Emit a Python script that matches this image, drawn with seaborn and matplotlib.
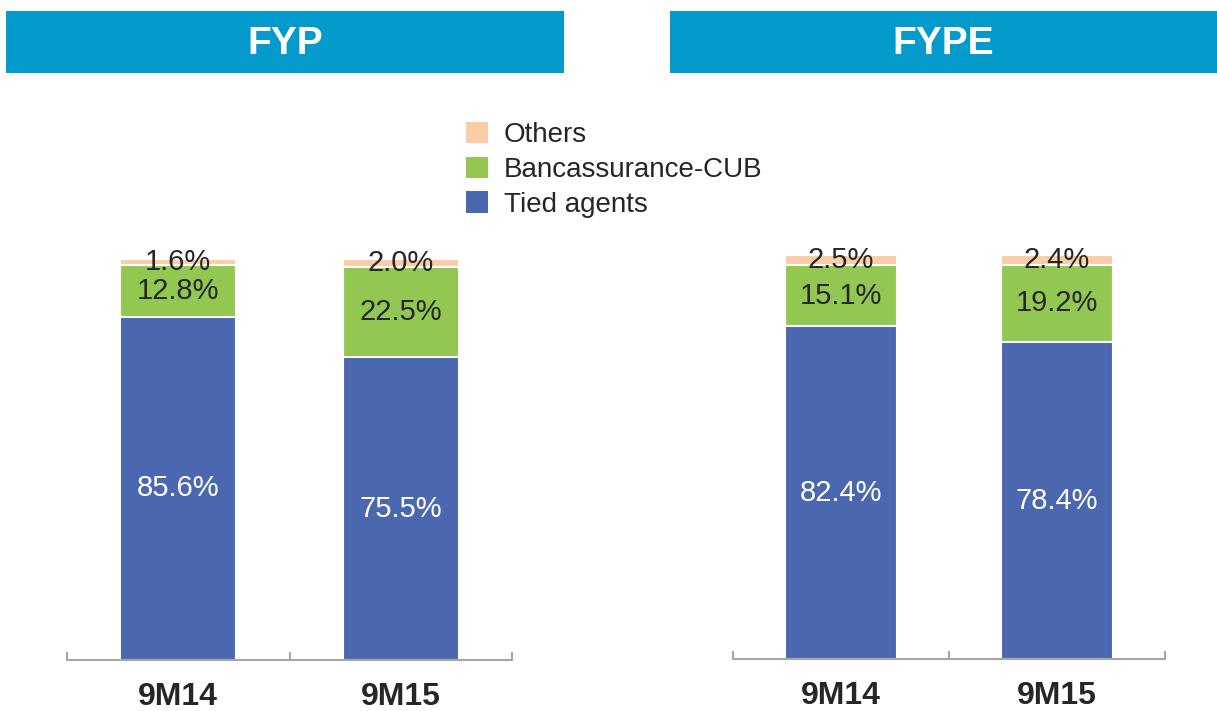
import matplotlib
matplotlib.use("Agg")
import matplotlib.pyplot as plt
from matplotlib.patches import Rectangle, Patch
import seaborn as sns
import pandas as pd

sns.set_theme(style="white")
plt.rcParams["font.family"] = ["Liberation Sans", "DejaVu Sans"]

# Channel mix (% of total) for each metric
periods = ["9M14", "9M15"]
fyp_tied = [85.6, 75.5]
fyp_banca = [12.8, 22.5]
fyp_others = [1.6, 2.0]
fype_tied = [82.4, 78.4]
fype_banca = [15.1, 19.2]
fype_others = [2.5, 2.4]

channels = ["Others", "Bancassurance-CUB", "Tied agents"]
colors = {"Tied agents": "#4A67B0", "Bancassurance-CUB": "#92C852", "Others": "#FBCDA6"}
header_color = "#049BCC"
text_dark = "#262626"
axis_gray = "#A6A6A6"

W, H = 1217, 711
fig = plt.figure(figsize=(W / 100, H / 100), dpi=100)


def frac_box(x0, y_bottom, w, h):
    return [x0 / W, (H - y_bottom) / H, w / W, h / H]


def draw_panel(ax, tied, banca, others):
    df = pd.DataFrame({"period": periods, "tied": tied, "banca": banca, "others": others})
    df["banca_top"] = df["tied"] + df["banca"]
    df["total"] = df["banca_top"] + df["others"]
    # Stack drawn back-to-front as cumulative heights
    for col, name in [("total", "Others"), ("banca_top", "Bancassurance-CUB"), ("tied", "Tied agents")]:
        sns.barplot(data=df, x="period", y=col, color=colors[name], width=0.52,
                    edgecolor="white", linewidth=1.5, saturation=1, ax=ax, errorbar=None)
    for i, row in df.iterrows():
        ax.text(i, row["tied"] / 2, f"{row['tied']:.1f}%", ha="center", va="center",
                color="white", fontsize=21)
        ax.text(i, row["tied"] + row["banca"] / 2, f"{row['banca']:.1f}%", ha="center",
                va="center", color=text_dark, fontsize=21)
        ax.text(i, row["banca_top"] + row["others"] / 2, f"{row['others']:.1f}%",
                ha="center", va="center", color=text_dark, fontsize=21)
    ax.set_xlim(-0.5, 1.5)
    ax.set_ylim(0, 100)
    ax.set_xlabel("")
    ax.set_ylabel("")
    ax.set_yticks([])
    for s in ["top", "right", "left"]:
        ax.spines[s].set_visible(False)
    ax.spines["bottom"].set_color(axis_gray)
    ax.spines["bottom"].set_linewidth(1.5)
    ax.set_xticks([0, 1])
    ax.set_xticklabels(periods, fontsize=23, fontweight="bold", color=text_dark)
    ax.tick_params(axis="x", which="major", bottom=True, length=0, pad=16)
    ax.set_xticks([-0.5, 0.5, 1.5], minor=True)
    ax.tick_params(axis="x", which="minor", bottom=True, direction="in", length=6,
                   width=1.5, color=axis_gray)


ax1 = fig.add_axes(frac_box(67, 660, 445, 401))
ax2 = fig.add_axes(frac_box(733, 659, 432, 404))
for ax in (ax1, ax2):
    ax.patch.set_alpha(0)
draw_panel(ax1, fyp_tied, fyp_banca, fyp_others)
draw_panel(ax2, fype_tied, fype_banca, fype_others)

# Section headers
for x0, w, title in [(6, 558, "FYP"), (670, 547, "FYPE")]:
    fig.patches.append(Rectangle((x0 / W, (H - 73) / H), w / W, 62 / H,
                                 transform=fig.transFigure, facecolor=header_color,
                                 edgecolor="none", zorder=0))
    fig.text((x0 + w / 2) / W, 1 - 44 / H, title, ha="center", va="center",
             color="white", fontsize=28, fontweight="bold")

handles = [Patch(facecolor=colors[c], edgecolor="none", label=c) for c in channels]
fig.legend(handles=handles, loc="upper left", bbox_to_anchor=(455 / W, 1 - 111 / H),
           frameon=False, fontsize=20, handlelength=0.8, handleheight=0.8,
           handletextpad=0.55, labelspacing=0.3, borderaxespad=0)

fig.savefig("out.png", dpi=100)
